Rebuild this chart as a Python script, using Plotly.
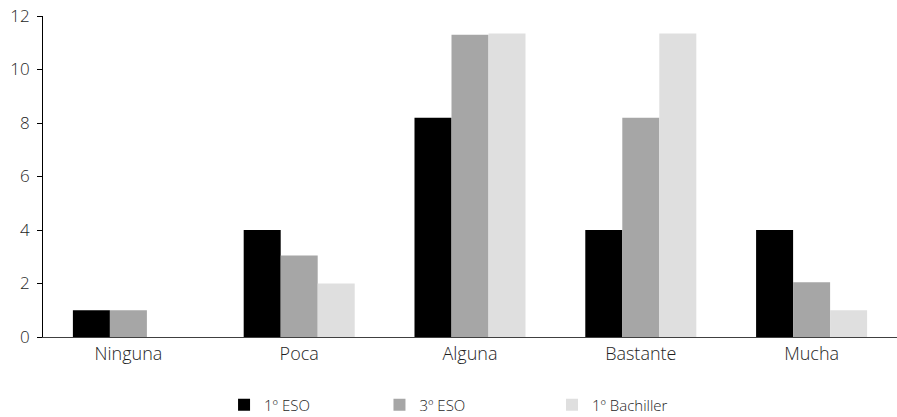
import plotly.graph_objects as go

categories = ["Ninguna", "Poca", "Alguna", "Bastante", "Mucha"]
eso1 = [1, 4, 8.2, 4, 4]
eso3 = [1, 3.05, 11.3, 8.2, 2.05]
bach1 = [0, 2, 11.35, 11.35, 1]
series_names = ["1º ESO", "3º ESO", "1º Bachiller"]
colors = ["#000000", "#A6A6A6", "#DFDFDF"]
y_ticks = [0, 2, 4, 6, 8, 10, 12]

FONT = "Open Sans"
TXT = "#1e1e1e"

fig = go.Figure()
legend_ids = ["legend", "legend2", "legend3"]
for name, vals, col, lg in zip(series_names, [eso1, eso3, bach1], colors, legend_ids):
    fig.add_trace(go.Bar(x=categories, y=vals, name=name, marker=dict(color=col, line=dict(width=0)),
                         legend=lg))

def leg(xpos):
    return dict(x=xpos, y=12 / 417, yref="container", xanchor="left", yanchor="middle",
                orientation="h",
                font=dict(family=FONT, size=15, color=TXT, weight=300), bgcolor="rgba(0,0,0,0)",
                itemclick=False, itemdoubleclick=False)

fig.update_layout(
    width=897, height=417,
    margin=dict(l=43, r=0, t=16, b=80, autoexpand=False),
    paper_bgcolor="white", plot_bgcolor="white",
    barmode="group", bargap=0.35, bargroupgap=0,
    font=dict(family=FONT, size=15, color=TXT, weight=300),
    showlegend=True,
    legend=leg(0.212), legend2=leg(0.394), legend3=leg(0.596),
    xaxis=dict(showline=True, linecolor="#404040", linewidth=1, ticks="",
               tickfont=dict(family=FONT, size=18, color=TXT, weight=300), showgrid=False),
    yaxis=dict(range=[0, 12], tickvals=y_ticks, showline=True, linecolor="#000000", linewidth=1,
               ticks="outside", ticklen=5, tickwidth=1, tickcolor="#000000", showgrid=False,
               zeroline=False, ticklabelstandoff=4,
               tickfont=dict(family=FONT, size=17, color=TXT, weight=300)),
)

fig.write_html("out.html", config={"displayModeBar": False},
               post_script="document.body.style.margin='0';document.body.style.overflow='hidden';")
